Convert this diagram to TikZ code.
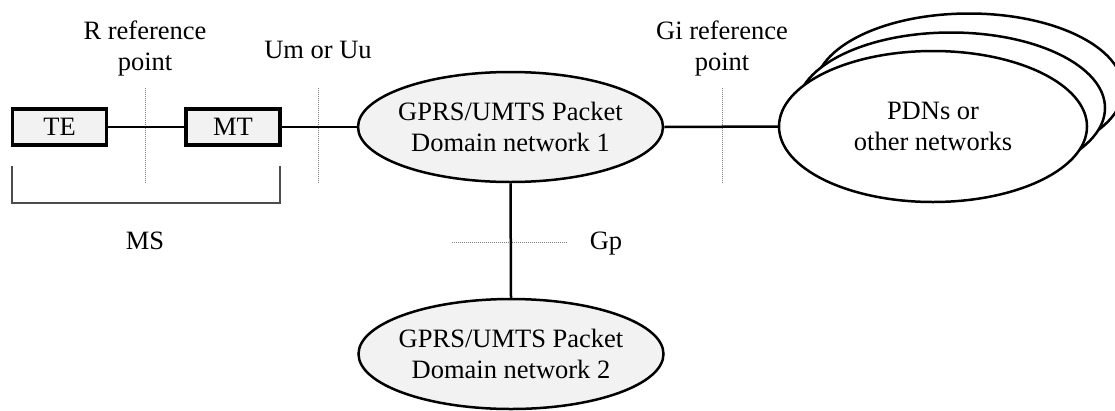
\documentclass[tikz,border=0pt]{standalone}
\usepackage{fontspec}
\setmainfont{Liberation Serif}
\usetikzlibrary{shapes.geometric}
\definecolor{boxgray}{HTML}{F2F2F2}
\begin{document}
\begin{tikzpicture}[x=1pt,y=-1pt,
  lbl/.style={font=\fontsize{26.5}{31}\selectfont, align=center, inner sep=0pt},
  boxnode/.style={draw, line width=3.2pt, fill=boxgray, minimum width=94pt, minimum height=36pt, inner sep=0pt, font=\fontsize{26.5}{31}\selectfont},
  net/.style={ellipse, draw, line width=2.5pt, inner sep=0pt},
  conn/.style={line width=2.5pt},
  refline/.style={draw=gray, line width=0.9pt, dash pattern=on 1pt off 1pt},
  bracket/.style={draw=black!70, line width=1.1pt}]
\useasboundingbox (0,0) rectangle (1115,410);
% reference point markers
\draw[refline] (145,88) -- (145,183);
\draw[refline] (318,88) -- (318,183);
\draw[refline] (722,88) -- (722,183);
\draw[refline] (452,242) -- (567,242);
% labels
\node[lbl] (rref) at (145,48) {R reference\\point};
\node[lbl] (umuu) at (318,50) {Um or Uu};
\node[lbl] (giref) at (722,48) {Gi reference\\point};
\node[lbl] (gp) at (606,244) {Gp};
\node[lbl] (ms) at (145,241) {MS};
% MS bracket
\draw[bracket] (12,166) |- (280,203) -- (280,166);
% boxes
\node[boxnode] (te) at (59.5,127) {TE};
\node[boxnode] (mt) at (233,127) {MT};
% networks
\node[net, fill=boxgray, minimum width=305pt, minimum height=110pt] (e1) at (510.5,127) {};
\node[lbl] (e1t) at (e1.center) {GPRS/UMTS Packet\\Domain network 1};
\node[net, fill=boxgray, minimum width=305pt, minimum height=110pt] (e2) at (511,354) {};
\node[lbl] (e2t) at (e2.center) {GPRS/UMTS Packet\\Domain network 2};
\node[net, fill=white, minimum width=308pt, minimum height=151pt] (pdn3) at (969,89) {};
\node[net, fill=white, minimum width=308pt, minimum height=151pt] (pdn2) at (951,108) {};
\node[net, fill=white, minimum width=308pt, minimum height=151pt] (pdn) at (933,126.5) {};
\node[lbl] (pdnt) at (pdn.center) {PDNs or\\other networks};
% connectors
\draw[conn] (te.east) -- (mt.west);
\draw[conn] (mt.east) -- (e1.west);
\draw[conn] (e1.east) -- (pdn.west);
\draw[conn] (e1.south) -- (e2.north);
\end{tikzpicture}
\end{document}
